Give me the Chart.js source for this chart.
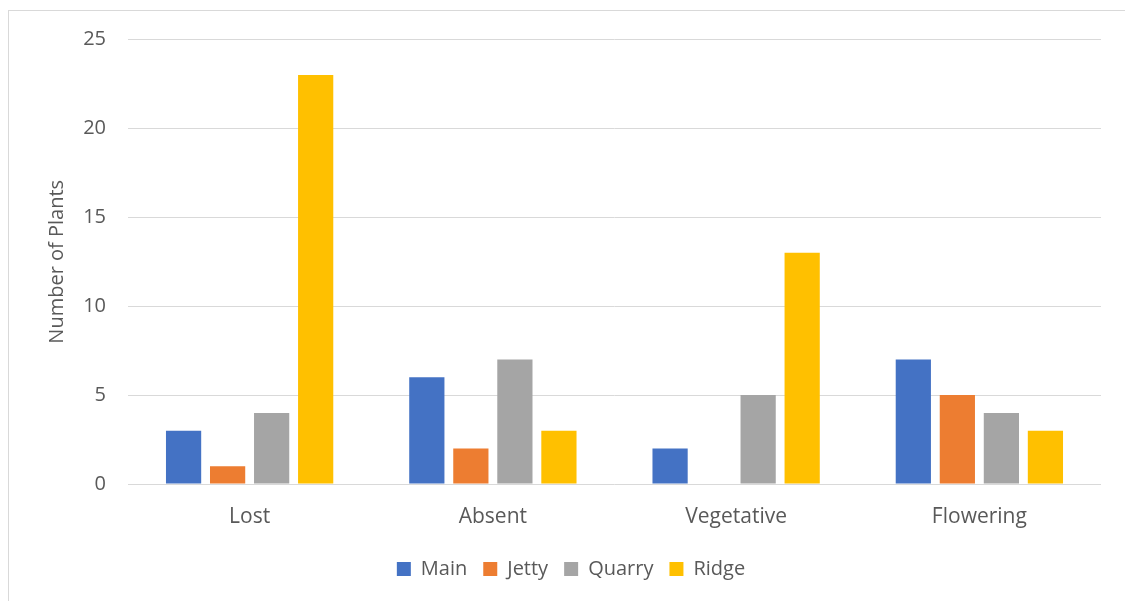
<!DOCTYPE html>
<html><head><meta charset="utf-8">
<script src="https://cdn.jsdelivr.net/npm/chart.js@4"></script>
<style>html,body{margin:0;padding:0;background:#fff}#wrap{width:1125px;height:601px;position:relative}</style>
</head><body><div id="wrap"><canvas id="c" width="1125" height="601"></canvas></div>
<script>
const categories = ["Lost", "Absent", "Vegetative", "Flowering"];
const seriesNames = ["Main", "Jetty", "Quarry", "Ridge"];
const mainValues = [3, 6, 2, 7];
const jettyValues = [1, 2, 0, 5];
const quarryValues = [4, 7, 5, 4];
const ridgeValues = [23, 3, 13, 3];
const seriesColors = ["#4472C4", "#ED7D31", "#A5A5A5", "#FFC000"];
const yTicks = [0, 5, 10, 15, 20, 25];

const txt = "#595959";
const fontFam = "'Open Sans', 'Liberation Sans', sans-serif";

const borderPlugin = {
  id: 'frame',
  beforeDraw(chart) {
    const ctx = chart.ctx;
    ctx.save();
    ctx.fillStyle = '#fff';
    ctx.fillRect(0, 0, chart.width, chart.height);
    ctx.strokeStyle = '#d9d9d9';
    ctx.lineWidth = 1;
    ctx.strokeRect(8.5, 10.5, 1200, 700);
    ctx.restore();
  }
};

const values = [mainValues, jettyValues, quarryValues, ridgeValues];
new Chart(document.getElementById('c'), {
  type: 'bar',
  data: {
    labels: categories,
    datasets: seriesNames.map((n, i) => ({
      label: n,
      data: values[i],
      backgroundColor: seriesColors[i],
      borderWidth: 0,
      categoryPercentage: 0.724,
      barPercentage: 0.8
    }))
  },
  options: {
    responsive: false,
    animation: false,
    layout: { padding: { left: 41, right: 24, top: 39.5, bottom: 12 } },
    plugins: {
      legend: {
        position: 'bottom',
        labels: {
          color: txt,
          font: { family: fontFam, size: 20 },
          boxWidth: 14, boxHeight: 14,
          padding: 16
        }
      },
      tooltip: { enabled: false }
    },
    scales: {
      x: {
        afterFit(scale) { scale.height = 59; },
        grid: { display: false, drawTicks: false },
        border: { display: false },
        ticks: { color: txt, font: { family: fontFam, size: 21 }, padding: 20 }
      },
      y: {
        min: 0, max: 25,
        afterBuildTicks(scale) { scale.ticks = yTicks.map(v => ({ value: v })); },
        afterFit(scale) { scale.width = 87; },
        grid: { color: '#d9d9d9', lineWidth: 1, drawTicks: false },
        border: { display: false },
        ticks: { color: txt, font: { family: fontFam, size: 20 }, padding: 22 },
        title: { display: true, text: 'Number of Plants', color: txt, font: { family: fontFam, size: 20 } }
      }
    }
  },
  plugins: [borderPlugin]
});
</script></body></html>
